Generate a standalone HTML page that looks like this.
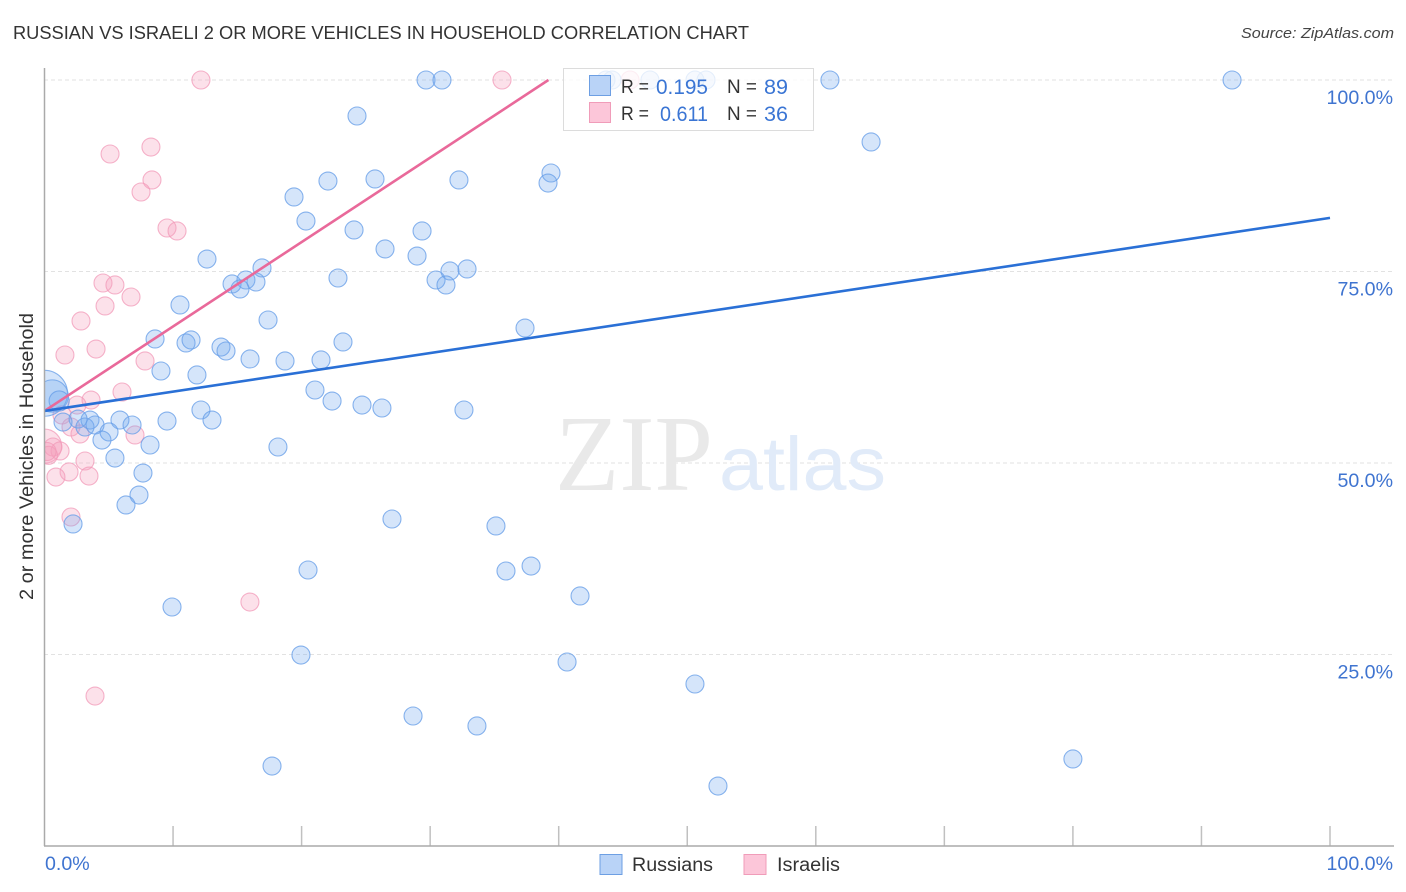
<!DOCTYPE html>
<html lang="en">
<head>
<meta charset="utf-8">
<title>Russian vs Israeli 2 or more Vehicles in Household Correlation Chart</title>
<style>
html,body{margin:0;padding:0;background:#fff;}
body{width:1406px;height:892px;overflow:hidden;font-family:"Liberation Sans",sans-serif;}
svg{display:block;}
text{font-family:"Liberation Sans",sans-serif;}
</style>
</head>
<body>
<svg id="chart" xmlns="http://www.w3.org/2000/svg" width="1406" height="892" viewBox="0 0 1406 892">
  <defs>
    <clipPath id="plot-clip"><rect x="44" y="60" width="1362" height="786"/></clipPath>
  </defs>
  <text x="13" y="39" font-size="18.5" fill="#333" textLength="736" lengthAdjust="spacingAndGlyphs">RUSSIAN VS ISRAELI 2 OR MORE VEHICLES IN HOUSEHOLD CORRELATION CHART</text>
  <text x="1394" y="38" font-size="15" font-style="italic" fill="#444" text-anchor="end" textLength="153" lengthAdjust="spacingAndGlyphs">Source: ZipAtlas.com</text>

  <g id="grid"></g>

  <g>
    <text x="555" y="490" font-size="108" fill="#e9e9e9" style="font-family:'Liberation Serif',serif" textLength="158" lengthAdjust="spacingAndGlyphs">ZIP</text>
    <text x="719" y="490" font-size="76" fill="#e1ebf9" textLength="167" lengthAdjust="spacingAndGlyphs">atlas</text>
  </g>

  <g id="points" clip-path="url(#plot-clip)"></g>
  <rect x="0" y="340" width="44" height="160" fill="#fff"/>
  <g id="trends"></g>
  <g id="axes"></g>
  <g id="ticklabels"></g>

  <text transform="translate(33,456.5) rotate(-90)" font-size="19" fill="#333" text-anchor="middle" textLength="287" lengthAdjust="spacingAndGlyphs">2 or more Vehicles in Household</text>

  <g>
    <rect x="563.5" y="68.5" width="250" height="62" fill="#fff" fill-opacity="0.78" stroke="#dcdcdc" stroke-width="1"/>
    <rect x="589.5" y="75.5" width="21" height="20" fill="#b9d3f7" stroke="#6d9fe3" stroke-width="1"/>
    <rect x="589.5" y="102.5" width="21" height="20" fill="#fcc6d9" stroke="#f09cb9" stroke-width="1"/>
    <text x="621" y="93" font-size="19" fill="#333" textLength="28" lengthAdjust="spacingAndGlyphs">R =</text>
    <text x="656" y="94" font-size="21.5" fill="#3a75d4" textLength="52" lengthAdjust="spacingAndGlyphs">0.195</text>
    <text x="727" y="93" font-size="19" fill="#333" textLength="30" lengthAdjust="spacingAndGlyphs">N =</text>
    <text x="764" y="94" font-size="21.5" fill="#3a75d4" textLength="24" lengthAdjust="spacingAndGlyphs">89</text>
    <text x="621" y="120" font-size="19" fill="#333" textLength="28" lengthAdjust="spacingAndGlyphs">R =</text>
    <text x="660" y="121" font-size="21.5" fill="#3a75d4" textLength="48" lengthAdjust="spacingAndGlyphs">0.611</text>
    <text x="727" y="120" font-size="19" fill="#333" textLength="30" lengthAdjust="spacingAndGlyphs">N =</text>
    <text x="764" y="121" font-size="21.5" fill="#3a75d4" textLength="24" lengthAdjust="spacingAndGlyphs">36</text>
  </g>

  <g>
    <rect x="600" y="854.5" width="22" height="20" fill="#b9d3f7" stroke="#6d9fe3" stroke-width="1"/>
    <text x="632" y="871" font-size="19" fill="#333" textLength="81" lengthAdjust="spacingAndGlyphs">Russians</text>
    <rect x="744" y="854.5" width="22" height="20" fill="#fcc6d9" stroke="#f09cb9" stroke-width="1"/>
    <text x="777" y="871" font-size="19" fill="#333" textLength="63" lengthAdjust="spacingAndGlyphs">Israelis</text>
  </g>
</svg>
<script>
// ---- chart data (percent values) ----
const russianX = [0,0.6,1.14,29.68,30.92,61.1,92.38,43.68,44.15,47.1,50.6,51.46,24.31,64.3,39.4,39.17,25.71,32.24,22.05,19.41,20.34,24.08,29.37,26.49,28.98,12.64,16.92,22.83,31.54,32.87,30.46,31.23,14.59,15.67,16.45,15.21,10.54,17.39,37.38,8.6,11.01,11.4,23.22,13.73,14.12,15.99,18.71,21.51,9.06,11.86,21.04,22.37,24.7,26.25,32.63,12.17,13.03,9.53,5.87,6.81,3.54,2.61,1.44,3.15,3.93,5.02,4.47,8.21,18.16,5.48,7.66,7.35,6.34,27.03,2.22,35.12,37.85,35.9,20.5,41.66,9.92,19.95,40.65,50.6,28.67,33.64,17.7,52.39,80.0];
const russianY = [59.1,58.75,58.09,100,100,100,100,100,100,100,100,100,95.3,91.91,87.86,86.55,87.08,86.95,86.81,84.73,81.59,80.42,80.29,77.94,77.02,76.63,75.46,74.15,75.07,75.33,73.89,73.24,73.37,73.89,73.63,72.72,70.63,68.67,67.62,66.19,65.67,66.06,65.8,65.14,64.62,63.58,63.32,63.45,62.01,61.49,59.53,58.09,57.57,57.18,56.92,56.92,55.61,55.48,55.61,54.96,55.61,55.74,55.35,54.7,54.96,54.05,53,52.35,52.09,50.65,48.69,45.82,44.52,42.69,42.04,41.78,36.55,35.9,36.03,32.64,31.2,24.93,24.02,21.15,16.97,15.67,10.44,7.83,11.36];
const russianWeight = [6.5,3.2,1.25];
const israeliX = [0,12.17,35.59,45.55,5.1,8.28,8.36,7.51,9.53,10.31,4.55,5.48,6.73,4.71,2.84,4.01,1.59,7.82,6.03,3.62,2.53,1.36,2.06,2.76,7.04,3.15,1.91,0.89,3.46,0.66,1.21,0.31,0.2,2.06,15.98,3.93];
const israeliY = [52.2,100,100,100,90.34,91.25,86.95,85.38,80.68,80.29,73.5,73.24,71.67,70.5,68.54,64.88,64.1,63.32,59.27,58.22,57.57,56.27,54.7,53.79,53.66,50.26,48.83,48.17,48.3,52.09,51.57,51.0,51.5,42.95,31.85,19.58];
const israeliWeight = [3.6];
const russianTrendX = [0,100];
const russianTrendY = [56.8,82];
const israeliTrendX = [0,39.2];
const israeliTrendY = [56.8,100];
const yTicks = [25,50,75,100];
const yTickLabels = ["25.0%","50.0%","75.0%","100.0%"];
const xTicks = [0,10,20,30,40,50,60,70,80,90,100];
const xEndTicks = [0,100];
const xEndLabels = ["0.0%","100.0%"];

// ---- axis functions ----
const xScale = v => 44.5 + v * 12.855;
const yScale = v => 846 - v * 7.66;
const radius = w => 9 * Math.sqrt(w);
const NS = "http://www.w3.org/2000/svg";
function make(parent, tag, attrs, text) {
  const el = document.createElementNS(NS, tag);
  for (const k in attrs) el.setAttribute(k, attrs[k]);
  if (text !== undefined) el.textContent = text;
  parent.appendChild(el);
  return el;
}
const grid = document.getElementById("grid");
const axes = document.getElementById("axes");
const labels = document.getElementById("ticklabels");
const points = document.getElementById("points");
const trends = document.getElementById("trends");

yTicks.forEach(t => {
  const g = make(grid, "line", {x1: 44, x2: 1394, y1: yScale(t), y2: yScale(t), stroke: "#e2e2e2", "stroke-width": 1, "stroke-dasharray": "4 3"});
  
  
});
yTicks.forEach((t, i) => {
  const l = make(labels, "text", {x: 1393, y: yScale(t) + 24, "font-size": 19.6, fill: "#3f74d0", "text-anchor": "end"}, yTickLabels[i]);
  
  
});
xEndTicks.forEach((t, i) => {
  const l = make(labels, "text", {x: t === 0 ? 45 : 1393, y: 870, "font-size": 19.6, fill: "#3f74d0", "text-anchor": t === 0 ? "start" : "end"}, xEndLabels[i]);
  
  
});
xTicks.forEach(t => {
  if (t === 0) return;
  const k = make(axes, "line", {x1: xScale(t), x2: xScale(t), y1: 826, y2: 846, stroke: "#c0c0c0", "stroke-width": 1.5});
  
  
});
const yAxis = make(axes, "line", {x1: 44.5, x2: 44.5, y1: 68, y2: 846, stroke: "#aaaaaa", "stroke-width": 1.5});


const xAxis = make(axes, "line", {x1: 44, x2: 1394, y1: 846, y2: 846, stroke: "#aaaaaa", "stroke-width": 1.5});



israeliX.forEach((x, i) => {
  const c = make(points, "circle", {cx: xScale(x), cy: yScale(israeliY[i]), r: radius(israeliWeight[i] || 1), fill: "#f7a1bf", "fill-opacity": 0.32, stroke: "#f29ab8", "stroke-opacity": 0.75, "stroke-width": 1.1});
  
  
});
russianX.forEach((x, i) => {
  const c = make(points, "circle", {cx: xScale(x), cy: yScale(russianY[i]), r: radius(russianWeight[i] || 1), fill: "#74a8ee", "fill-opacity": 0.3, stroke: "#6aa0e8", "stroke-opacity": 0.8, "stroke-width": 1.1});
  
  
});
const israeliLine = make(trends, "line", {x1: xScale(israeliTrendX[0]), y1: yScale(israeliTrendY[0]), x2: xScale(israeliTrendX[1]), y2: yScale(israeliTrendY[1]), stroke: "#e9699a", "stroke-width": 2.6});


const russianLine = make(trends, "line", {x1: xScale(russianTrendX[0]), y1: yScale(russianTrendY[0]), x2: xScale(russianTrendX[1]), y2: yScale(russianTrendY[1]), stroke: "#2a70d6", "stroke-width": 2.6});


</script>
</body>
</html>
